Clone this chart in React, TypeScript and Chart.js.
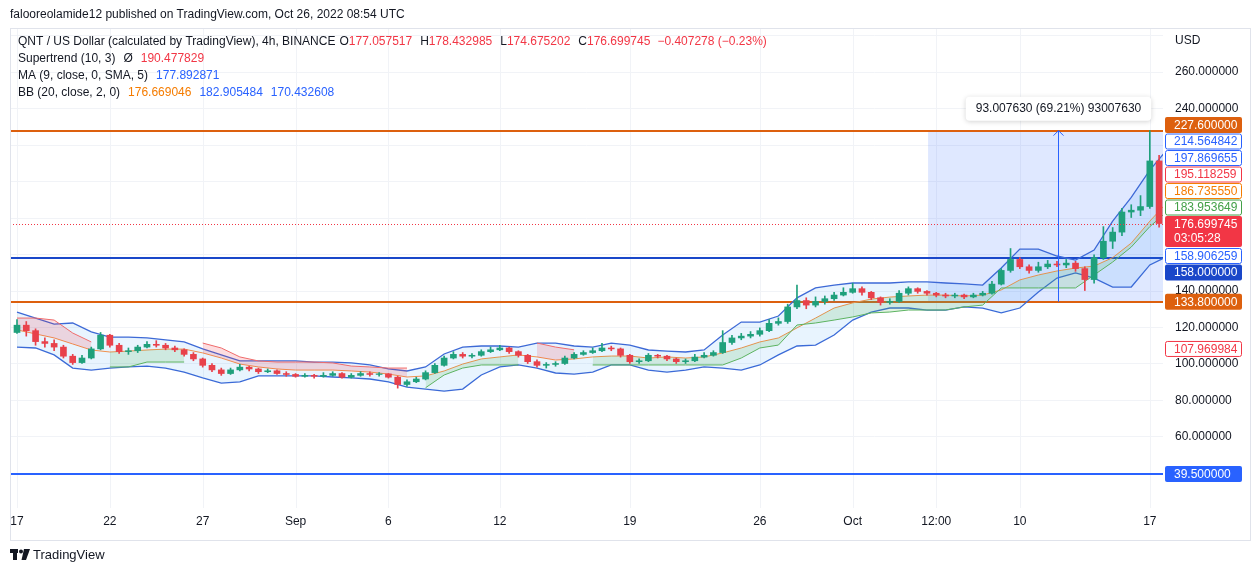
import React, { useEffect, useRef } from "react";
import { Chart, registerables } from "chart.js";

Chart.register(...registerables);

const FONT = '"Liberation Sans", Arial, sans-serif';

// ---------------- data (12h candles from Aug 17) ----------------
const firstOpen = 117;
const closes = [
  121, 118, 112, 111, 109, 104, 100.5, 103, 108, 115.5,
  110, 106.5, 107, 109, 110.5, 110, 108.5, 107.5, 105, 102.5,
  99, 96.5, 94.5, 96.5, 98, 97, 95.5, 96, 94.5, 94,
  93, 93.5, 93, 93.5, 94.5, 92.5, 93.5, 94.5, 94, 94.3,
  92.5, 88.5, 90, 91.5, 95, 99, 103, 105, 104, 104.5,
  106.5, 107.5, 108.5, 106.5, 104.5, 101, 99, 99.5, 100, 103,
  105, 106, 107, 108.5, 108, 104.5, 101, 101.5, 104.5, 104,
  102.5, 101, 101.5, 103.5, 104.5, 106, 111.5, 114, 115, 116,
  118, 122, 123, 131, 134.5, 132, 134, 135.5, 137.5, 139,
  141, 139, 136, 133.5, 134, 138.5, 141, 139.5, 138.5, 137.5,
  137, 137.5, 136.5, 137.5, 138.5, 143.5, 151, 157, 153, 151,
  153, 154.5, 154, 155, 152, 146, 158, 167, 172, 183,
  184, 186, 211, 176.699745,
];
const highs = [
  124, 123, 119, 114, 113, 110, 105, 104.5, 109, 117,
  116, 111, 108.5, 110, 112, 112.5, 111, 109.5, 108, 106,
  103, 100, 97.5, 97.5, 99.5, 98.5, 97.5, 97, 96.5, 95.5,
  94.5, 94.5, 94, 95, 95.5, 95, 94.5, 95.5, 95.5, 95,
  94.5, 93, 91, 92.5, 96, 100, 104, 106.5, 106, 105.5,
  107.5, 109, 110, 109, 107, 105, 102, 100.5, 101, 104,
  106, 107, 108.5, 111, 109.5, 108.5, 105, 102.5, 105.5, 105,
  104.5, 103, 102.5, 105, 106, 107, 118, 115.5, 116.5, 117.5,
  119.5, 124, 125, 132.5, 143, 136, 136.5, 137, 139, 141.5,
  144, 142, 139.5, 136.5, 135.5, 140, 142, 141.5, 140, 139,
  138.5, 138.5, 138, 138.5, 139.5, 145, 152, 163, 158, 154,
  155.5, 156.5, 156, 157, 156, 153, 159.5, 175, 174.5, 185,
  187, 192, 227.6, 214,
];
const lows = [
  116.5, 115, 110, 109, 107, 103, 99.5, 100, 102.5, 107.5,
  109, 105.5, 105, 106, 108.5, 109, 107.5, 106.5, 104, 101.5,
  98, 95.5, 93.5, 94, 96, 96, 94.5, 95, 94, 93,
  92.5, 92.5, 92, 92.5, 93, 92, 92, 93, 93, 93,
  92, 86.5, 87.5, 89.5, 91, 94.5, 98.5, 102.5, 103, 103,
  104, 106, 107, 105.5, 103.5, 100, 98, 97.5, 98.5, 99.5,
  102.5, 104.5, 105.5, 106.5, 107, 103.5, 100, 100, 101, 103,
  101.5, 100, 100, 101, 103, 104, 105.5, 110.5, 113, 114,
  115, 117.5, 121, 122, 130, 130, 131, 132.5, 134.5, 137,
  138.5, 137.5, 135, 132, 132.5, 133.5, 137.5, 138.5, 137.5, 136.5,
  136, 136, 135.5, 136, 137, 138, 143, 150, 152, 149.5,
  150, 152, 153, 152.5, 150.5, 140, 144, 157, 163, 170,
  180, 181, 185, 174.675202,
];

// ---------------- indicators (one value per day, Aug 17 = day 0) ----------------
const bbUpper = [
  128.2, 124.9, 121.6, 122.2, 117.3, 114.5, 114.5, 114, 112.9, 111.8,
  108, 104.7, 101.4, 101.4, 101.4, 101.4, 100.8, 100.8, 100.3, 99.2,
  97, 95.9, 98.1, 105.2, 109, 109.6, 109.6, 109, 111.2, 111.2,
  109.6, 109, 111.2, 110.1, 107.4, 106.8, 106.3, 107.4, 115.6, 122.7,
  122.7, 126, 136, 141.4, 143, 144.1, 144.1, 144.1, 144.7, 144.7,
  144.1, 143.6, 143, 152.3, 162.7, 162.7, 158.9, 156.7, 162.2, 178,
  191, 206, 218,
];
const bbBasis = [
  118.4, 116.2, 114, 110.7, 107.4, 106.3, 106.8, 107.4, 107.9, 107.9,
  105.8, 103, 99.7, 98.1, 97, 96.4, 96.4, 96.4, 95.9, 95.3,
  94.2, 92.6, 93.2, 95.9, 99.7, 102.5, 103.6, 104.7, 103.6, 101.9,
  102.5, 103.6, 104.1, 104.1, 103, 103.6, 103, 103.6, 105.8, 108.5,
  111.8, 114, 119.5, 124.9, 130.4, 133.2, 135.3, 136.4, 137, 137.5,
  137.5, 137, 137.5, 140.3, 145.8, 148.5, 150.7, 152.3, 153.4, 158,
  166, 178, 189,
];
const bbLower = [
  109, 108.5, 104.7, 97.5, 96.4, 97.5, 98.1, 98.6, 97.5, 95.3,
  92.1, 89.3, 89.9, 93.2, 93.2, 93.2, 93.2, 92.6, 92.1, 91.5,
  89.9, 87.1, 86, 84.9, 86, 93.7, 98.1, 99.2, 97.5, 94.8,
  94.2, 95.3, 99.2, 99.2, 96.4, 95.3, 96.4, 98.1, 97.5, 96.4,
  99.2, 104.7, 109.6, 110.1, 115.6, 123.8, 128.2, 130.4, 130.4, 129.3,
  129.3, 131, 130.4, 127.7, 130.4, 139.2, 146.8, 149.6, 146.8, 141.9,
  141.9, 154, 159,
];
const supertrendDown = [
  124.9, 124.9, 123.8, 116.7, 111.8, null, null, null, null, null,
  111.2, 108.5, 103.6, 101.4, 100.8, 100.8, 100.8, 100.3, 98.6, 98.1,
  97.5, 97.5, null, null, null, null, null, null, 111.2, 109,
  107.5, null, null, null, null, null, null, null, null, null,
  null, null, null, null, null, null, null, null, null, null,
  null, null, null, null, null, null, null, null, null, null,
  null, null, null,
];
const supertrendUp = [
  null, null, null, null, null, 98.1, 98.1, 100.8, 100.8, 100.8,
  null, null, null, null, null, null, null, null, null, null,
  null, null, 86.7, 93.7, 97.5, 99.2, 99.2, 99.2, null, null,
  null, 99.2, 99.2, 99.2, 99.2, 99.2, 99.2, 99.2, 99.2, 103,
  108.5, 110.1, 121.1, 122.2, 123.8, 125.5, 127.7, 128.2, 129.3, 129.3,
  129.3, 131, 132, 141.4, 141.4, 141.4, 141.4, 141.4, 148.5, 155.6,
  163.8, 175, 183.9,
];

// ---------------- axes / annotations ----------------
const timeLabels = ["17", "22", "27", "Sep", "6", "12", "19", "26", "Oct", "12:00", "10", "17"];
const timeLabelDays = [0, 5, 10, 15, 20, 26, 33, 40, 45, 49.5, 54, 61];
const priceTicks = [60, 80, 100, 120, 140, 240, 260];
const gridLevels = [40, 60, 80, 100, 120, 140, 160, 180, 200, 220, 240, 260, 280];
const levelValues = [227.6, 158, 133.8, 39.5];
const markerValues = [214.564842, 197.869655, 195.118259, 186.73555, 183.953649, 158.906259, 107.969984];
const lastPrice = 176.699745;
const countdown = "03:05:28";
const measureLow = 133.8;
const measureHigh = 227.6;
const measureStartDay = 49.06;
const measureArrowDay = 56.06;
const measureText = "93.007630 (69.21%) 93007630";

// styles
const UP = "#1fa07c";
const DOWN = "#e8414b";
const levelColors = ["#dd600e", "#1a47c9", "#dd600e", "#2962ff"];
const markerColors = ["#2962ff", "#2962ff", "#f23645", "#f57c00", "#43a047", "#2962ff", "#f23645"];
const DARK = "#131722";
const RED_TXT = "#f23645";
const BLUE_TXT = "#2962ff";
const ORANGE_TXT = "#f57c00";

function roundRect(ctx: CanvasRenderingContext2D, x: number, y: number, w: number, h: number, r: number) {
  ctx.beginPath();
  ctx.moveTo(x + r, y);
  ctx.lineTo(x + w - r, y);
  ctx.quadraticCurveTo(x + w, y, x + w, y + r);
  ctx.lineTo(x + w, y + h - r);
  ctx.quadraticCurveTo(x + w, y + h, x + w - r, y + h);
  ctx.lineTo(x + r, y + h);
  ctx.quadraticCurveTo(x, y + h, x, y + h - r);
  ctx.lineTo(x, y + r);
  ctx.quadraticCurveTo(x, y, x + r, y);
  ctx.closePath();
}

function drawRich(ctx: CanvasRenderingContext2D, x: number, y: number, parts: [string, string, number][]) {
  let cx = x;
  for (const [t, c, gap] of parts) {
    cx += gap;
    ctx.fillStyle = c;
    ctx.fillText(t, cx, y);
    cx += ctx.measureText(t).width;
  }
}

const overlayPlugin = {
  id: "tvOverlay",
  beforeDatasetsDraw(chart: any) {
    const { ctx, chartArea: a, scales } = chart;
    const x = scales.x, y = scales.y;
    ctx.save();
    ctx.strokeStyle = "#f1f3f7";
    ctx.lineWidth = 1;
    for (const v of gridLevels) {
      const py = Math.round(y.getPixelForValue(v)) + 0.5;
      ctx.beginPath(); ctx.moveTo(a.left, py); ctx.lineTo(a.right, py); ctx.stroke();
    }
    for (const d of timeLabelDays) {
      const px = Math.round(x.getPixelForValue(d)) + 0.5;
      ctx.beginPath(); ctx.moveTo(px, a.top); ctx.lineTo(px, a.bottom); ctx.stroke();
    }
    // measurement rectangle
    const rx = x.getPixelForValue(measureStartDay);
    const ry1 = y.getPixelForValue(measureHigh);
    const ry2 = y.getPixelForValue(measureLow);
    ctx.fillStyle = "rgba(41,98,255,0.15)";
    ctx.fillRect(rx, ry1, a.right - rx, ry2 - ry1);
    // horizontal levels
    ctx.lineWidth = 2;
    levelValues.forEach((v, i) => {
      const py = Math.round(y.getPixelForValue(v));
      ctx.strokeStyle = levelColors[i];
      ctx.beginPath(); ctx.moveTo(a.left, py); ctx.lineTo(a.right, py); ctx.stroke();
    });
    ctx.restore();
  },
  afterDatasetsDraw(chart: any) {
    const { ctx, chartArea: a, scales } = chart;
    const x = scales.x, y = scales.y;
    ctx.save();
    // arrow of measurement
    const ax = Math.round(x.getPixelForValue(measureArrowDay)) + 0.5;
    const top = y.getPixelForValue(measureHigh);
    const bot = y.getPixelForValue(measureLow);
    ctx.strokeStyle = "#2962ff";
    ctx.lineWidth = 1;
    ctx.beginPath(); ctx.moveTo(ax, bot); ctx.lineTo(ax, top); ctx.stroke();
    ctx.beginPath(); ctx.moveTo(ax - 5, top + 5); ctx.lineTo(ax, top); ctx.lineTo(ax + 5, top + 5); ctx.stroke();
    // last price dotted line
    const lp = Math.round(y.getPixelForValue(lastPrice)) + 0.5;
    ctx.strokeStyle = RED_TXT;
    ctx.setLineDash([1, 2]);
    ctx.beginPath(); ctx.moveTo(a.left, lp); ctx.lineTo(a.right, lp); ctx.stroke();
    ctx.setLineDash([]);
    // measurement label
    ctx.font = `12px ${FONT}`;
    const tw = ctx.measureText(measureText).width;
    const bw = tw + 20, bh = 24;
    const bx = ax - bw / 2, by = top - 10 - bh;
    ctx.shadowColor = "rgba(0,0,0,0.18)";
    ctx.shadowBlur = 5;
    ctx.shadowOffsetY = 1;
    ctx.fillStyle = "#ffffff";
    roundRect(ctx, bx, by, bw, bh, 4);
    ctx.fill();
    ctx.shadowColor = "transparent";
    ctx.fillStyle = DARK;
    ctx.textAlign = "center";
    ctx.textBaseline = "middle";
    ctx.fillText(measureText, ax, by + bh / 2 + 0.5);
    ctx.restore();
  },
  afterDraw(chart: any) {
    const { ctx, scales } = chart;
    const x = scales.x, y = scales.y;
    ctx.save();
    // frame
    ctx.strokeStyle = "#e0e3eb";
    ctx.lineWidth = 1;
    ctx.strokeRect(10.5, 28.5, 1240, 512);
    ctx.font = `12px ${FONT}`;
    ctx.textBaseline = "middle";
    // header
    ctx.textAlign = "left";
    drawRich(ctx, 18, 42, [
      ["QNT / US Dollar (calculated by TradingView), 4h, BINANCE", DARK, 0],
      ["O", DARK, 4], ["177.057517", RED_TXT, 0],
      ["H", DARK, 8], ["178.432985", RED_TXT, 0],
      ["L", DARK, 8], ["174.675202", RED_TXT, 0],
      ["C", DARK, 8], ["176.699745", RED_TXT, 0],
      ["\u22120.407278 (\u22120.23%)", RED_TXT, 7],
    ]);
    drawRich(ctx, 18, 59, [["Supertrend (10, 3)", DARK, 0], ["\u00d8", DARK, 8], ["190.477829", RED_TXT, 8]]);
    drawRich(ctx, 18, 76, [["MA (9, close, 0, SMA, 5)", DARK, 0], ["177.892871", BLUE_TXT, 8]]);
    drawRich(ctx, 18, 93, [
      ["BB (20, close, 2, 0)", DARK, 0],
      ["176.669046", ORANGE_TXT, 8],
      ["182.905484", BLUE_TXT, 8],
      ["170.432608", BLUE_TXT, 8],
    ]);
    // price axis
    ctx.fillStyle = DARK;
    ctx.fillText("USD", 1175, 41);
    for (const v of priceTicks) {
      ctx.fillText(v.toFixed(6), 1175, y.getPixelForValue(v) + 0.5);
    }
    // time axis
    ctx.textAlign = "center";
    timeLabels.forEach((t, i) => {
      ctx.fillText(t, x.getPixelForValue(timeLabelDays[i]), 522);
    });
    // price labels with stacking
    ctx.textAlign = "left";
    type Lab = { v: number; kind: string; color: string };
    const labs: Lab[] = [];
    levelValues.forEach((v, i) => labs.push({ v, kind: "fill", color: levelColors[i] }));
    markerValues.forEach((v, i) => labs.push({ v, kind: "outline", color: markerColors[i] }));
    const LX = 1165, LW = 77, LH = 16;
    const drawLab = (l: Lab, c: number) => {
      const t = c - LH / 2;
      if (l.kind === "fill") {
        ctx.fillStyle = l.color;
        roundRect(ctx, LX, t, LW, LH, 2);
        ctx.fill();
        ctx.fillStyle = "#ffffff";
      } else {
        ctx.fillStyle = "#ffffff";
        roundRect(ctx, LX + 0.5, t + 0.5, LW - 1, LH - 1, 2);
        ctx.fill();
        ctx.strokeStyle = l.color;
        ctx.lineWidth = 1;
        ctx.stroke();
        ctx.fillStyle = l.color;
      }
      ctx.fillText(l.v.toFixed(6), LX + 9, c + 0.5);
    };
    const ap = y.getPixelForValue(lastPrice);
    const aTop = ap - 7.5;
    const aBot = aTop + 31;
    let curTop = aTop;
    labs.filter((l) => l.v > lastPrice).sort((p, q) => p.v - q.v).forEach((l) => {
      const c = Math.min(y.getPixelForValue(l.v), curTop - 0.5 - LH / 2);
      drawLab(l, c);
      curTop = c - LH / 2;
    });
    let curBot = aBot;
    labs.filter((l) => l.v < lastPrice).sort((p, q) => q.v - p.v).forEach((l) => {
      const c = Math.max(y.getPixelForValue(l.v), curBot + 0.5 + LH / 2);
      drawLab(l, c);
      curBot = c + LH / 2;
    });
    ctx.fillStyle = "#f23645";
    roundRect(ctx, LX, aTop, LW, 31, 2);
    ctx.fill();
    ctx.fillStyle = "#ffffff";
    ctx.fillText(lastPrice.toFixed(6), LX + 9, aTop + 8.5);
    ctx.fillText(countdown, LX + 9, aTop + 23);
    // TradingView logo
    ctx.fillStyle = "#131722";
    ctx.fillRect(10, 549, 8, 4);
    ctx.fillRect(13, 549, 4, 11);
    ctx.beginPath(); ctx.arc(21, 551.5, 2, 0, Math.PI * 2); ctx.fill();
    ctx.beginPath(); ctx.moveTo(24, 549); ctx.lineTo(30, 549); ctx.lineTo(26, 560); ctx.lineTo(21.5, 560); ctx.closePath(); ctx.fill();
    ctx.font = `13px ${FONT}`;
    ctx.fillText("TradingView", 33, 555);
    ctx.restore();
  },
};

export default function App() {
  const ref = useRef<HTMLCanvasElement | null>(null);
  useEffect(() => {
    if (!ref.current) return;
    const opens = closes.map((_, i) => (i === 0 ? firstOpen : closes[i - 1]));
    const candleX = closes.map((_, i) => i * 0.5);
    const colors = closes.map((c, i) => (c >= opens[i] ? UP : DOWN));
    const dayPts = (arr: (number | null)[]) => arr.map((v, d) => ({ x: d, y: v }));
    const chart = new Chart(ref.current, {
      type: "bar",
      data: {
        datasets: [
          {
            type: "bar",
            data: closes.map((c, i) => ({ x: candleX[i], y: [opens[i], c] })) as any,
            backgroundColor: colors,
            barThickness: 6,
            grouped: false,
            borderWidth: 0,
            order: 0,
          } as any,
          {
            type: "bar",
            data: closes.map((_, i) => ({ x: candleX[i], y: [lows[i], highs[i]] })) as any,
            backgroundColor: colors,
            barThickness: 1,
            grouped: false,
            borderWidth: 0,
            order: 1,
          } as any,
          {
            type: "line",
            data: dayPts(supertrendDown) as any,
            borderColor: "#ef6b6b",
            borderWidth: 1,
            pointRadius: 0,
            spanGaps: false,
            fill: { target: 4, above: "rgba(242,54,69,0.17)", below: "rgba(242,54,69,0.17)" },
            order: 2,
          } as any,
          {
            type: "line",
            data: dayPts(supertrendUp) as any,
            borderColor: "#5cb360",
            borderWidth: 1,
            pointRadius: 0,
            spanGaps: false,
            fill: { target: 4, above: "rgba(76,175,80,0.17)", below: "rgba(76,175,80,0.17)" },
            order: 2,
          } as any,
          {
            type: "line",
            data: dayPts(bbBasis) as any,
            borderColor: "#f0904e",
            borderWidth: 1,
            pointRadius: 0,
            fill: false,
            order: 3,
          } as any,
          {
            type: "line",
            data: dayPts(bbUpper) as any,
            borderColor: "#3d69d6",
            borderWidth: 1.3,
            pointRadius: 0,
            fill: { target: 6, above: "rgba(33,150,243,0.1)", below: "rgba(33,150,243,0.1)" },
            order: 4,
          } as any,
          {
            type: "line",
            data: dayPts(bbLower) as any,
            borderColor: "#3d69d6",
            borderWidth: 1.3,
            pointRadius: 0,
            fill: false,
            order: 4,
          } as any,
        ],
      },
      options: {
        animation: false,
        responsive: false,
        devicePixelRatio: 1,
        events: [],
        layout: { padding: { left: 10, right: 93, top: 28, bottom: 64 } },
        plugins: { legend: { display: false }, tooltip: { enabled: false } },
        scales: {
          x: { type: "linear", min: -0.377, max: 61.71, display: false, offset: false, grid: { offset: false } },
          y: { type: "linear", min: 20.82, max: 283.84, display: false },
        },
      } as any,
      plugins: [overlayPlugin as any],
    });
    return () => chart.destroy();
  }, []);
  return (
    <div style={{ position: "fixed", left: 0, top: 0, width: 1256, height: 572, background: "#ffffff", overflow: "hidden" }}>
      <canvas ref={ref} width={1256} height={572} style={{ position: "absolute", left: 0, top: 0, width: 1256, height: 572 }} />
      <div style={{ position: "absolute", left: 10, top: 7, font: `12px ${FONT}`, lineHeight: "14px", color: "#131722", whiteSpace: "nowrap" }}>
        falooreolamide12 published on TradingView.com, Oct 26, 2022 08:54 UTC
      </div>
    </div>
  );
}
